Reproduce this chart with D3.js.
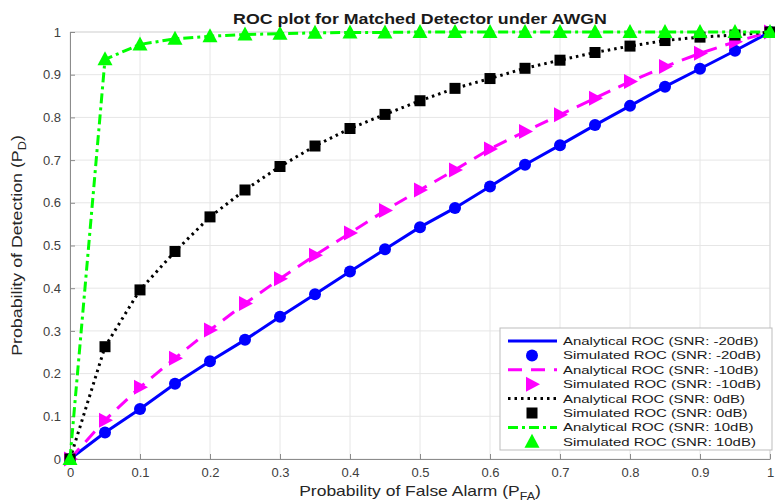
<html>
<head>
<meta charset="utf-8">
<script src="https://cdn.jsdelivr.net/npm/d3@7/dist/d3.min.js"></script>
<style>
body { margin: 0; background: #fff; }
text { font-family: "Liberation Sans", Arial, sans-serif; }
.grid line { stroke: #e6e6e6; stroke-width: 1; }
.axis path, .axis line { stroke: #8c8c8c; }
.axis text { fill: #404040; font-size: 13px; }
</style>
</head>
<body>
<script>
// false alarm probabilities (x)
var pfa = [0, 0.05, 0.1, 0.15, 0.2, 0.25, 0.3, 0.35, 0.4, 0.45, 0.5,
           0.55, 0.6, 0.65, 0.7, 0.75, 0.8, 0.85, 0.9, 0.95, 1]

// detection probabilities
var pdM20 = [0, 0.062, 0.117, 0.176, 0.229, 0.279, 0.333, 0.386, 0.439, 0.491, 0.543,
             0.588, 0.638, 0.689, 0.735, 0.782, 0.827, 0.872, 0.914, 0.956, 1]
var pdM10 = [0, 0.091, 0.168, 0.236, 0.302, 0.364, 0.422, 0.477, 0.529, 0.582, 0.63,
             0.677, 0.726, 0.767, 0.806, 0.845, 0.884, 0.919, 0.95, 0.977, 1]
var pd0 = [0, 0.263, 0.396, 0.486, 0.567, 0.63, 0.685, 0.733, 0.774, 0.807, 0.839,
           0.868, 0.891, 0.915, 0.934, 0.952, 0.967, 0.98, 0.988, 0.993, 1]
var pd10 = [0, 0.936, 0.971, 0.984, 0.99, 0.994, 0.996, 0.998, 0.999, 0.999, 1,
            1, 1, 1, 1, 1, 1, 1, 1, 1, 1]

var xTicks = [0, 0.1, 0.2, 0.3, 0.4, 0.5, 0.6, 0.7, 0.8, 0.9, 1]
var yTicks = [0, 0.1, 0.2, 0.3, 0.4, 0.5, 0.6, 0.7, 0.8, 0.9, 1]

var series = [
  {snr: "-20dB", vals: pdM20, color: "#0000ff", dash: null, marker: "circle"},
  {snr: "-10dB", vals: pdM10, color: "#ff00ff", dash: "14,9", marker: "tri-right"},
  {snr: "0dB", vals: pd0, color: "#000000", dash: "2.5,4", marker: "square"},
  {snr: "10dB", vals: pd10, color: "#00ff00", dash: "10,4,3,4", marker: "tri-up"}
]

var W = 775, H = 502
var m = {left: 70, right: 5, top: 32, bottom: 43}

var svg = d3.select("body").append("svg")
  .attr("width", W).attr("height", H)

var x = d3.scaleLinear().domain([0, 1]).range([m.left, W - m.right])
var y = d3.scaleLinear().domain([0, 1]).range([H - m.bottom, m.top])

// stretch text a bit wider, the source image text is wide
function widen(sel, k) {
  sel.each(function () {
    var len = this.getComputedTextLength()
    d3.select(this).attr("textLength", len * k).attr("lengthAdjust", "spacingAndGlyphs")
  })
}

// grid
var grid = svg.append("g").attr("class", "grid")
grid.selectAll(".gx").data(xTicks).enter().append("line")
  .attr("x1", d => x(d)).attr("x2", d => x(d))
  .attr("y1", y(0)).attr("y2", y(1))
grid.selectAll(".gy").data(yTicks).enter().append("line")
  .attr("x1", x(0)).attr("x2", x(1))
  .attr("y1", d => y(d)).attr("y2", d => y(d))

// light box on top / right
svg.append("path")
  .attr("d", "M" + x(0) + "," + y(1) + "H" + x(1) + "V" + y(0))
  .attr("fill", "none").attr("stroke", "#d9d9d9")

var fmt = d => d === 0 ? "0" : d === 1 ? "1" : d3.format(".1f")(d)

svg.append("g").attr("class", "axis")
  .attr("transform", "translate(0," + y(0) + ")")
  .call(d3.axisBottom(x).tickValues(xTicks).tickFormat(fmt).tickSizeInner(-5).tickSizeOuter(0).tickPadding(9))

svg.append("g").attr("class", "axis")
  .attr("transform", "translate(" + x(0) + ",0)")
  .call(d3.axisLeft(y).tickValues(yTicks).tickFormat(fmt).tickSizeInner(-5).tickSizeOuter(0).tickPadding(9))

// lines
var line = d3.line().x((d, i) => x(pfa[i])).y(d => y(d))

var plot = svg.append("g")

function drawMarker(g, type, color, cx, cy) {
  if (type === "circle") {
    g.append("circle").attr("cx", cx).attr("cy", cy).attr("r", 6).attr("fill", color)
  } else if (type === "square") {
    g.append("rect").attr("x", cx - 5.5).attr("y", cy - 5.5).attr("width", 11).attr("height", 11).attr("fill", color)
  } else if (type === "tri-right") {
    g.append("path").attr("d", "M" + (cx + 8) + "," + cy + "L" + (cx - 6) + "," + (cy - 7.5) + "L" + (cx - 6) + "," + (cy + 7.5) + "Z").attr("fill", color)
  } else {
    g.append("path").attr("d", "M" + cx + "," + (cy - 8) + "L" + (cx - 7.5) + "," + (cy + 6) + "L" + (cx + 7.5) + "," + (cy + 6) + "Z").attr("fill", color)
  }
}

series.forEach(function (s) {
  plot.append("path").datum(s.vals)
    .attr("d", line)
    .attr("fill", "none")
    .attr("stroke", s.color)
    .attr("stroke-width", 3)
    .attr("stroke-dasharray", s.dash)
  var mg = plot.append("g")
  s.vals.forEach(function (v, i) {
    drawMarker(mg, s.marker, s.color, x(pfa[i]), y(v))
  })
})

// title + labels
svg.append("text").attr("x", (x(0) + x(1)) / 2).attr("y", 24)
  .attr("text-anchor", "middle").attr("font-size", 14).attr("font-weight", "bold")
  .attr("fill", "#1a1a1a")
  .text("ROC plot for Matched Detector under AWGN")
  .call(widen, 1.27)

var xl = svg.append("text").attr("x", (x(0) + x(1)) / 2).attr("y", 496)
  .attr("text-anchor", "middle").attr("font-size", 14).attr("fill", "#262626")
  .attr("transform", "translate(" + ((x(0) + x(1)) / 2) + ",0) scale(1.25,1) translate(" + (-(x(0) + x(1)) / 2) + ",0)")
xl.append("tspan").text("Probability of False Alarm (P")
xl.append("tspan").attr("font-size", 10).attr("dy", 4).text("FA")
xl.append("tspan").attr("dy", -4).text(")")

var yl = svg.append("text")
  .attr("transform", "translate(22," + (y(0.5)) + ") rotate(-90) scale(1.27,1)")
  .attr("text-anchor", "middle").attr("font-size", 14).attr("fill", "#262626")
yl.append("tspan").text("Probability of Detection (P")
yl.append("tspan").attr("font-size", 10).attr("dy", 4).text("D")
yl.append("tspan").attr("dy", -4).text(")")

// legend
var lg = svg.append("g")
lg.append("rect").attr("x", 500).attr("y", 328).attr("width", 272).attr("height", 122)
  .attr("fill", "#fff").attr("stroke", "#bdbdbd")

var entries = []
series.forEach(function (s) {
  entries.push({kind: "line", s: s, label: "Analytical ROC (SNR: " + s.snr + ")"})
  entries.push({kind: "marker", s: s, label: "Simulated ROC (SNR: " + s.snr + ")"})
})

entries.forEach(function (e, i) {
  var ly = 341 + i * 14.4
  if (e.kind === "line") {
    lg.append("line").attr("x1", 508).attr("x2", 557).attr("y1", ly).attr("y2", ly)
      .attr("stroke", e.s.color).attr("stroke-width", 3)
      .attr("stroke-dasharray", e.s.dash)
  } else {
    drawMarker(lg, e.s.marker, e.s.color, 532, ly)
  }
  lg.append("text").attr("x", 563).attr("y", ly + 4)
    .attr("font-size", 11).attr("fill", "#1a1a1a").text(e.label)
    .call(widen, 1.36)
})
</script>
</body>
</html>
